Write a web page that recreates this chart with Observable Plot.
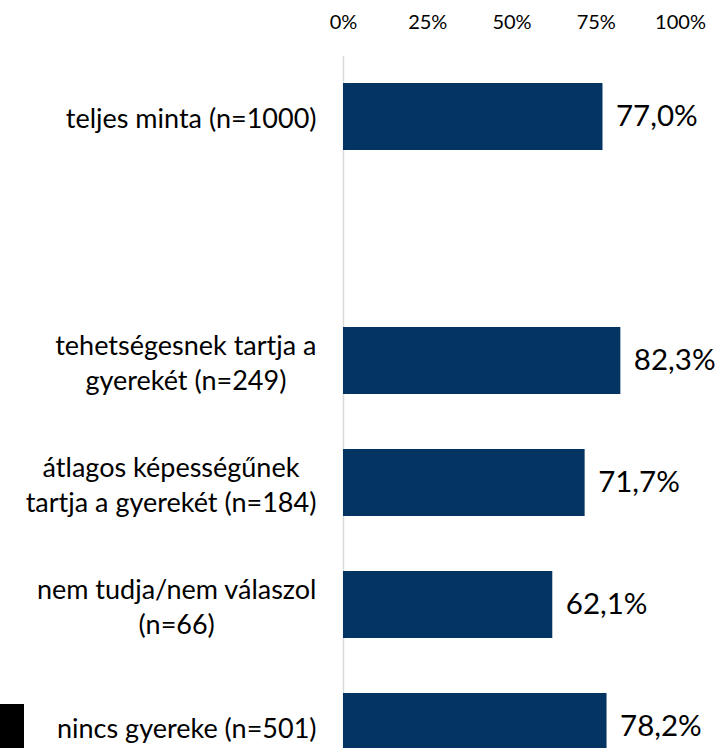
<!DOCTYPE html>
<html>
<head>
<meta charset="utf-8">
<script src="https://cdn.jsdelivr.net/npm/d3@7"></script>
<script src="https://cdn.jsdelivr.net/npm/@observablehq/plot@0.6"></script>
<style>
  html, body { margin: 0; padding: 0; background: #fff; overflow: hidden; }
  #wrap { position: relative; width: 719px; height: 748px; }
  #marker { position: absolute; left: 0; top: 704px; width: 24px; height: 44px; background: #000; }
</style>
</head>
<body>
<div id="wrap"><div id="marker"></div></div>
<script>
const categories = [
  "teljes minta (n=1000)",
  "tehetségesnek tartja a\ngyerekét (n=249)",
  "átlagos képességűnek\ntartja a gyerekét (n=184)",
  "nem tudja/nem válaszol\n(n=66)",
  "nincs gyereke (n=501)"
];
const values = [77.0, 82.3, 71.7, 62.1, 78.2];
const xTicks = [0, 25, 50, 75, 100];
const GAP = "__gap__";

const data = categories.map((c, i) => ({cat: c, value: values[i]}));
const fmt = v => v.toFixed(1).replace(".", ",") + "%";

const chart = Plot.plot({
  width: 719,
  height: 748,
  marginTop: 56,
  marginBottom: 0,
  marginLeft: 343,
  marginRight: 39,
  style: {fontFamily: "Lato, sans-serif", background: "transparent", color: "#000"},
  x: {domain: [0, 100]},
  y: {
    domain: [categories[0], GAP, ...categories.slice(1)],
    range: [55.5, 787.5],
    paddingInner: 0.45,
    paddingOuter: 0.225,
    axis: null
  },
  marks: [
    Plot.ruleX([0], {stroke: "#d9d9d9", strokeWidth: 1.5}),
    Plot.barX(data, {x: "value", y: "cat", fill: "#033462"}),
    Plot.text(data, {
      x: "value", y: "cat", text: d => fmt(d.value),
      textAnchor: "start", dx: 13, fontSize: 29.5, fill: "#000"
    }),
    Plot.text(data, {
      x: () => 0, y: "cat", text: "cat",
      textAnchor: "end", dx: -27, fontSize: 27, lineHeight: 1.3, fill: "#000"
    }),
    Plot.axisX({
      anchor: "top", ticks: xTicks, tickFormat: d => d + "%",
      tickSize: 0, tickPadding: 28, fontSize: 20, fill: "#000", label: null
    })
  ]
});

const wrap = document.getElementById("wrap");
wrap.insertBefore(chart, wrap.firstChild);

// center the lines of each category label within its right-aligned block
const flat = new Set(categories.map(c => c.replace(/\n/g, "")));
chart.querySelectorAll("text").forEach(el => {
  if (!flat.has(el.textContent)) return;
  const w = el.getBBox().width;
  const t = el.getAttribute("transform") || "";
  el.setAttribute("text-anchor", "middle");
  el.style.textAnchor = "middle";
  el.setAttribute("transform", (t + ` translate(${-w / 2},0)`).trim());
});
</script>
</body>
</html>
